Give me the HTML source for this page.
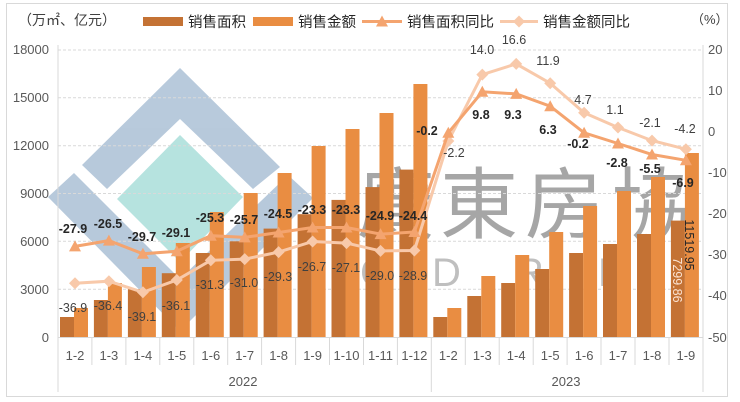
<!DOCTYPE html>
<html><head><meta charset="utf-8"><style>
html,body{margin:0;padding:0;background:#fff;}
svg{display:block;font-family:"Liberation Sans","Noto Sans CJK SC",sans-serif;}
.ax{font-size:13px;fill:#595959;}
.la{font-size:12.5px;font-weight:bold;fill:#262626;text-anchor:middle;}
.lb{font-size:12.5px;fill:#404040;text-anchor:middle;}
</style></head><body>
<svg width="740" height="402" viewBox="0 0 740 402" xmlns="http://www.w3.org/2000/svg">
<rect x="6.5" y="3.5" width="721" height="393" fill="#fff" stroke="#d9d9d9"/>
<!-- watermark -->
<g opacity="0.95">
<polygon points="82,165 180,68 280,167 253,189 180,119 107,189" fill="#B4C7DA"/>
<polygon points="180,135 243,197 180,262 117,199" fill="#B3E2DE"/>
<polygon points="48,197 74,173 180,279 288,175 313,198 180,331" fill="#B4C7DA"/>
</g>
<g font-family="'Noto Sans CJK SC','WenQuanYi Zen Hei',sans-serif" font-size="78" fill="#A6A6A6">
<text x="357" y="232">廣</text><text x="440" y="232">東</text><text x="525" y="232">房</text><text x="612" y="232">協</text>
</g>
<g font-size="40" fill="#BFBFBF">
<text x="360" y="286">G</text><text x="432" y="286">D</text><text x="515" y="286">R</text><text x="598" y="286">E</text><text x="672" y="286">A</text>
</g>
<!-- grid -->
<g stroke="#d9d9d9" stroke-dasharray="3,2" stroke-width="1">
<line x1="58" x2="703" y1="289.2" y2="289.2"/><line x1="58" x2="703" y1="241.3" y2="241.3"/>
<line x1="58" x2="703" y1="193.5" y2="193.5"/><line x1="58" x2="703" y1="145.7" y2="145.7"/>
<line x1="58" x2="703" y1="97.8" y2="97.8"/><line x1="58" x2="703" y1="50" y2="50"/>
</g>
<!-- bars dark -->
<g fill="#C47234">
<rect x="60" y="317" width="14" height="20"/><rect x="93.9" y="300" width="14" height="37"/>
<rect x="127.9" y="289.2" width="14" height="47.8"/><rect x="161.8" y="273.2" width="14" height="63.8"/>
<rect x="195.8" y="253" width="14" height="84"/><rect x="229.7" y="241.3" width="14" height="95.7"/>
<rect x="263.6" y="228.6" width="14" height="108.4"/><rect x="297.6" y="214.2" width="14" height="122.8"/>
<rect x="331.5" y="199.9" width="14" height="137.1"/><rect x="365.5" y="187.1" width="14" height="149.9"/>
<rect x="399.4" y="169.6" width="14" height="167.4"/><rect x="433.3" y="317" width="14" height="20"/>
<rect x="467.3" y="296" width="14" height="41"/><rect x="501.2" y="283" width="14" height="54"/>
<rect x="535.2" y="269" width="14" height="68"/><rect x="569.1" y="253" width="14" height="84"/>
<rect x="603" y="244" width="14" height="93"/><rect x="637" y="234" width="14" height="103"/>
<rect x="670.9" y="220.6" width="14" height="116.4"/>
</g>
<g fill="#E98D42">
<rect x="74" y="308" width="14" height="29"/><rect x="107.9" y="283" width="14" height="54"/>
<rect x="141.9" y="267" width="14" height="70"/><rect x="175.8" y="243" width="14" height="94"/>
<rect x="209.8" y="212" width="14" height="125"/><rect x="243.7" y="193" width="14" height="144"/>
<rect x="277.6" y="173" width="14" height="164"/><rect x="311.6" y="146" width="14" height="191"/>
<rect x="345.5" y="129" width="14" height="208"/><rect x="379.5" y="113" width="14" height="224"/>
<rect x="413.4" y="84" width="14" height="253"/><rect x="447.3" y="308" width="14" height="29"/>
<rect x="481.3" y="276" width="14" height="61"/><rect x="515.2" y="255" width="14" height="82"/>
<rect x="549.2" y="232" width="14" height="105"/><rect x="583.1" y="206" width="14" height="131"/>
<rect x="617" y="191" width="14" height="146"/><rect x="651" y="177" width="14" height="160"/>
<rect x="684.9" y="153" width="14" height="184"/>
</g>
<!-- axes -->
<g stroke="#d9d9d9" stroke-width="1">
<line x1="58" x2="58" y1="45" y2="392"/><line x1="703" x2="703" y1="45" y2="392"/>
<line x1="58" x2="703" y1="337.5" y2="337.5"/>
<line x1="431.3" x2="431.3" y1="337" y2="392"/>
<line x1="91.9" x2="91.9" y1="337" y2="365"/><line x1="125.9" x2="125.9" y1="337" y2="365"/>
<line x1="159.8" x2="159.8" y1="337" y2="365"/><line x1="193.8" x2="193.8" y1="337" y2="365"/>
<line x1="227.7" x2="227.7" y1="337" y2="365"/><line x1="261.6" x2="261.6" y1="337" y2="365"/>
<line x1="295.6" x2="295.6" y1="337" y2="365"/><line x1="329.5" x2="329.5" y1="337" y2="365"/>
<line x1="363.5" x2="363.5" y1="337" y2="365"/><line x1="397.4" x2="397.4" y1="337" y2="365"/>
<line x1="465.3" x2="465.3" y1="337" y2="365"/><line x1="499.2" x2="499.2" y1="337" y2="365"/>
<line x1="533.2" x2="533.2" y1="337" y2="365"/><line x1="567.1" x2="567.1" y1="337" y2="365"/>
<line x1="601" x2="601" y1="337" y2="365"/><line x1="635" x2="635" y1="337" y2="365"/>
<line x1="669" x2="669" y1="337" y2="365"/>
</g>
<!-- lines -->
<polyline fill="none" stroke="#F8C9AA" stroke-width="3" points="75,283.3 108.9,281.2 142.9,292.3 176.8,280 210.8,260.3 244.7,259.1 278.6,252.1 312.6,241.5 346.5,243.1 380.5,250.9 414.4,250.5 448.3,141 482.3,74.6 516.2,63.9 550.2,83.2 584.1,112.7 618,127.5 652,140.6 685.9,149.2"/>
<g fill="#F8C9AA">
<polygon points="75,277.3 81,283.3 75,289.3 69,283.3"/><polygon points="108.9,275.2 114.9,281.2 108.9,287.2 102.9,281.2"/>
<polygon points="142.9,286.3 148.9,292.3 142.9,298.3 136.9,292.3"/><polygon points="176.8,274 182.8,280 176.8,286 170.8,280"/>
<polygon points="210.8,254.3 216.8,260.3 210.8,266.3 204.8,260.3"/><polygon points="244.7,253.1 250.7,259.1 244.7,265.1 238.7,259.1"/>
<polygon points="278.6,246.1 284.6,252.1 278.6,258.1 272.6,252.1"/><polygon points="312.6,235.5 318.6,241.5 312.6,247.5 306.6,241.5"/>
<polygon points="346.5,237.1 352.5,243.1 346.5,249.1 340.5,243.1"/><polygon points="380.5,244.9 386.5,250.9 380.5,256.9 374.5,250.9"/>
<polygon points="414.4,244.5 420.4,250.5 414.4,256.5 408.4,250.5"/><polygon points="448.3,135 454.3,141 448.3,147 442.3,141"/>
<polygon points="482.3,68.6 488.3,74.6 482.3,80.6 476.3,74.6"/><polygon points="516.2,57.9 522.2,63.9 516.2,69.9 510.2,63.9"/>
<polygon points="550.2,77.2 556.2,83.2 550.2,89.2 544.2,83.2"/><polygon points="584.1,106.7 590.1,112.7 584.1,118.7 578.1,112.7"/>
<polygon points="618,121.5 624,127.5 618,133.5 612,127.5"/><polygon points="652,134.6 658,140.6 652,146.6 646,140.6"/>
<polygon points="685.9,143.2 691.9,149.2 685.9,155.2 679.9,149.2"/>
</g>
<polyline fill="none" stroke="#F4A46F" stroke-width="3" points="75,246.4 108.9,240.6 142.9,253.8 176.8,251.3 210.8,235.7 244.7,237.4 278.6,232.5 312.6,227.5 346.5,227.5 380.5,234.1 414.4,232 448.3,132.8 482.3,91.8 516.2,93.9 550.2,106.2 584.1,132.8 618,143.5 652,154.5 685.9,160.3"/>
<g fill="#F4A46F">
<polygon points="75,240.4 81,251.4 69,251.4"/><polygon points="108.9,234.6 114.9,245.6 102.9,245.6"/>
<polygon points="142.9,247.8 148.9,258.8 136.9,258.8"/><polygon points="176.8,245.3 182.8,256.3 170.8,256.3"/>
<polygon points="210.8,229.7 216.8,240.7 204.8,240.7"/><polygon points="244.7,231.4 250.7,242.4 238.7,242.4"/>
<polygon points="278.6,226.5 284.6,237.5 272.6,237.5"/><polygon points="312.6,221.5 318.6,232.5 306.6,232.5"/>
<polygon points="346.5,221.5 352.5,232.5 340.5,232.5"/><polygon points="380.5,228.1 386.5,239.1 374.5,239.1"/>
<polygon points="414.4,226 420.4,237 408.4,237"/><polygon points="448.3,126.8 454.3,137.8 442.3,137.8"/>
<polygon points="482.3,85.8 488.3,96.8 476.3,96.8"/><polygon points="516.2,87.9 522.2,98.9 510.2,98.9"/>
<polygon points="550.2,100.2 556.2,111.2 544.2,111.2"/><polygon points="584.1,126.8 590.1,137.8 578.1,137.8"/>
<polygon points="618,137.5 624,148.5 612,148.5"/><polygon points="652,148.5 658,159.5 646,159.5"/>
<polygon points="685.9,154.3 691.9,165.3 679.9,165.3"/>
</g>
<!-- data labels area -->
<text class="la" x="73" y="233">-27.9</text><text class="la" x="108" y="228">-26.5</text>
<text class="la" x="142" y="241">-29.7</text><text class="la" x="176" y="237">-29.1</text>
<text class="la" x="210" y="222">-25.3</text><text class="la" x="244" y="224">-25.7</text>
<text class="la" x="278" y="218">-24.5</text><text class="la" x="312" y="214">-23.3</text>
<text class="la" x="346" y="214">-23.3</text><text class="la" x="380" y="220">-24.9</text>
<text class="la" x="413" y="220">-24.4</text><text class="la" x="427" y="135">-0.2</text>
<text class="la" x="481" y="119">9.8</text><text class="la" x="513" y="119">9.3</text>
<text class="la" x="548" y="134">6.3</text><text class="la" x="578" y="148">-0.2</text>
<text class="la" x="617" y="167">-2.8</text><text class="la" x="650" y="173">-5.5</text>
<text class="la" x="683" y="187">-6.9</text>
<!-- data labels amount -->
<text class="lb" x="73" y="312">-36.9</text><text class="lb" x="108" y="310">-36.4</text>
<text class="lb" x="142" y="321">-39.1</text><text class="lb" x="176" y="310">-36.1</text>
<text class="lb" x="210" y="289">-31.3</text><text class="lb" x="244" y="287">-31.0</text>
<text class="lb" x="278" y="281">-29.3</text><text class="lb" x="312" y="271">-26.7</text>
<text class="lb" x="346" y="272">-27.1</text><text class="lb" x="380" y="280">-29.0</text>
<text class="lb" x="413" y="280">-28.9</text><text class="lb" x="454" y="157">-2.2</text>
<text class="lb" x="482" y="54">14.0</text><text class="lb" x="514" y="44">16.6</text>
<text class="lb" x="548" y="65">11.9</text><text class="lb" x="583" y="104">4.7</text>
<text class="lb" x="615" y="114">1.1</text><text class="lb" x="650" y="127">-2.1</text>
<text class="lb" x="685" y="133">-4.2</text>
<text font-size="12.5" fill="#262626" transform="translate(685,245) rotate(90)" text-anchor="middle">11519.95</text>
<text font-size="12.5" fill="#FBE3D3" transform="translate(673,280) rotate(90)" text-anchor="middle">7299.86</text>
<!-- axis labels -->
<g class="ax" text-anchor="end">
<text x="49" y="342">0</text><text x="49" y="294">3000</text><text x="49" y="246">6000</text>
<text x="49" y="198">9000</text><text x="49" y="150">12000</text><text x="49" y="102">15000</text><text x="49" y="54">18000</text>
</g>
<g class="ax">
<text x="708" y="54">20</text><text x="708" y="95">10</text><text x="708" y="136">0</text>
<text x="708" y="177">-10</text><text x="708" y="218">-20</text><text x="708" y="259">-30</text>
<text x="708" y="300">-40</text><text x="708" y="342">-50</text>
</g>
<g class="ax" text-anchor="middle">
<text x="75" y="360">1-2</text><text x="108.9" y="360">1-3</text><text x="142.9" y="360">1-4</text>
<text x="176.8" y="360">1-5</text><text x="210.8" y="360">1-6</text><text x="244.7" y="360">1-7</text>
<text x="278.6" y="360">1-8</text><text x="312.6" y="360">1-9</text><text x="346.5" y="360">1-10</text>
<text x="380.5" y="360">1-11</text><text x="414.4" y="360">1-12</text><text x="448.3" y="360">1-2</text>
<text x="482.3" y="360">1-3</text><text x="516.2" y="360">1-4</text><text x="550.2" y="360">1-5</text>
<text x="584.1" y="360">1-6</text><text x="618" y="360">1-7</text><text x="652" y="360">1-8</text>
<text x="685.9" y="360">1-9</text>
<text x="243" y="386">2022</text><text x="566" y="386">2023</text>
</g>
<!-- legend -->
<text x="18" y="25" font-size="14" fill="#404040">（万㎡、亿元）</text>
<rect x="143" y="17" width="40" height="9" fill="#C47234"/>
<text x="188" y="27" font-size="14.5" fill="#262626">销售面积</text>
<rect x="253" y="17" width="40" height="9" fill="#E98D42"/>
<text x="298" y="27" font-size="14.5" fill="#262626">销售金额</text>
<line x1="362" x2="402" y1="21.5" y2="21.5" stroke="#F4A46F" stroke-width="3"/>
<polygon points="382,15.5 388,26.5 376,26.5" fill="#F4A46F"/>
<text x="407" y="27" font-size="14.5" fill="#262626">销售面积同比</text>
<line x1="500" x2="538" y1="21.5" y2="21.5" stroke="#F8C9AA" stroke-width="3"/>
<polygon points="519,15.5 525,21.5 519,27.5 513,21.5" fill="#F8C9AA"/>
<text x="543" y="27" font-size="14.5" fill="#262626">销售金额同比</text>
<text x="691" y="24" font-size="13" fill="#404040">（%）</text>
</svg>
</body></html>
